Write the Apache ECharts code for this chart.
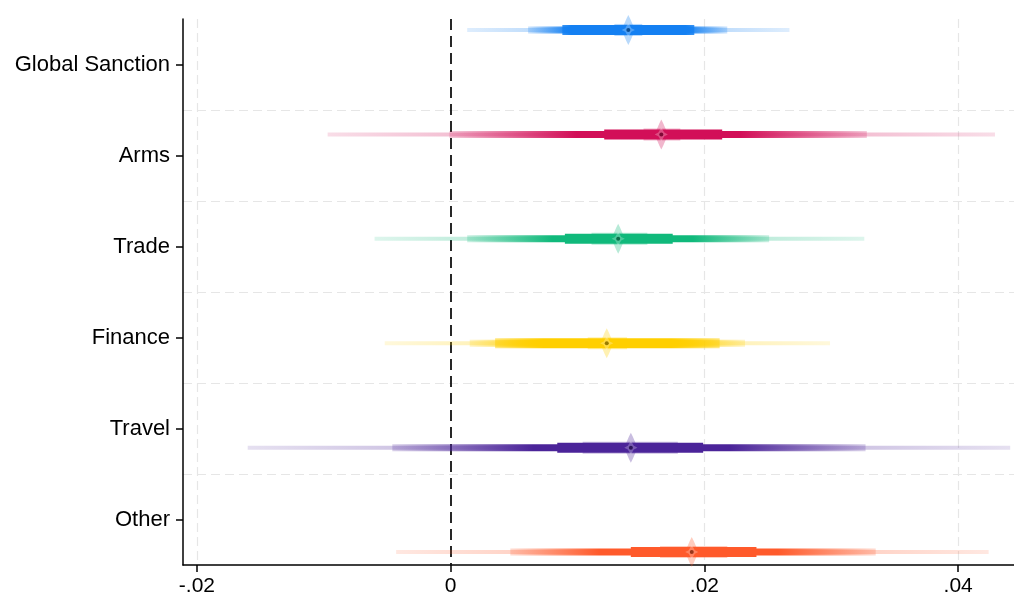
<!DOCTYPE html>
<html>
<head>
<meta charset="utf-8">
<script src="https://cdn.jsdelivr.net/npm/echarts@6/dist/echarts.min.js"></script>
<style>
  html, body { margin: 0; padding: 0; background: #fff; }
  #main { width: 1014px; height: 597px; }
</style>
</head>
<body>
<div id="main"></div>
<script>
// 各类制裁的系数与置信区间
const categories = ['Global Sanction', 'Arms', 'Trade', 'Finance', 'Travel', 'Other']
const estimate = [0.0140, 0.0166, 0.0132, 0.0123, 0.0142, 0.0190]
// 最外层（最浅）
const outerLo = [0.0013, -0.0097, -0.0060, -0.0052, -0.0160, -0.0043]
const outerHi = [0.0267, 0.0429, 0.0326, 0.0299, 0.0441, 0.0424]
// 中层（渐变）
const midLo = [0.0061, -0.0001, 0.0013, 0.0015, -0.0046, 0.0047]
const midHi = [0.0218, 0.0328, 0.0251, 0.0232, 0.0327, 0.0335]
// 颜色变为实色的区间
const solidLo = [0.0095, 0.0099, 0.0080, 0.0073, 0.0065, 0.0117]
const solidHi = [0.0185, 0.0228, 0.0191, 0.0174, 0.0220, 0.0258]
// 粗带
const thickLo = [0.0088, 0.0121, 0.0090, 0.0035, 0.0084, 0.0142]
const thickHi = [0.0192, 0.0214, 0.0175, 0.0212, 0.0199, 0.0241]
// 最内层
const innerLo = [0.0129, 0.0152, 0.0111, 0.0108, 0.0104, 0.0165]
const innerHi = [0.0151, 0.0181, 0.0155, 0.0139, 0.0179, 0.0218]
const xTicks = [-0.02, 0, 0.02, 0.04]

const colors = ['#1480f2', '#d20f58', '#10b97b', '#ffcf00', '#4b2499', '#ff5a2b']

function rgba(hex, a, dark) {
  const n = parseInt(hex.slice(1), 16)
  const k = dark || 1
  return 'rgba(' + Math.round((n >> 16) * k) + ',' + Math.round(((n >> 8) & 255) * k) + ',' + Math.round((n & 255) * k) + ',' + a + ')'
}

const rows = categories.map((c, i) => [
  i + 1, estimate[i], outerLo[i], outerHi[i], midLo[i], midHi[i],
  solidLo[i], solidHi[i], thickLo[i], thickHi[i], innerLo[i], innerHi[i]
])

function renderItem(params, api) {
  const i = params.dataIndex
  const c = colors[i]
  const pos = api.value(0)
  const y = api.coord([0, pos])[1]
  const px = v => api.coord([v, pos])[0]
  const band = (lo, hi, h, fill) => ({
    type: 'rect',
    shape: { x: px(lo), y: y - h / 2, width: px(hi) - px(lo), height: h },
    style: { fill: fill }
  })
  // 渐变：两端浅，中间实色
  const x0 = px(api.value(4)), x1 = px(api.value(5))
  let s1 = (px(api.value(6)) - x0) / (x1 - x0)
  let s2 = (px(api.value(7)) - x0) / (x1 - x0)
  s1 = Math.min(Math.max(s1, 0.01), 0.98)
  s2 = Math.min(Math.max(s2, s1 + 0.01), 0.99)
  const grad = new echarts.graphic.LinearGradient(x0, 0, x1, 0, [
    { offset: 0, color: rgba(c, 0.22) },
    { offset: s1, color: rgba(c, 1) },
    { offset: s2, color: rgba(c, 1) },
    { offset: 1, color: rgba(c, 0.22) }
  ], true)
  const ox0 = px(api.value(2)), ox1 = px(api.value(3))
  const outerGrad = new echarts.graphic.LinearGradient(ox0, 0, ox1, 0, [
    { offset: 0, color: rgba(c, 0.14) },
    { offset: (x0 - ox0) / (ox1 - ox0), color: rgba(c, 0.26) },
    { offset: (x1 - ox0) / (ox1 - ox0), color: rgba(c, 0.26) },
    { offset: 1, color: rgba(c, 0.14) }
  ], true)
  const ex = px(api.value(1))
  const spike = [[-11, 0], [-5, -4], [-2, -11], [0, -15], [2, -11], [5, -4], [11, 0],
    [5, 4], [2, 11], [0, 15], [-2, 11], [-5, 4]].map(p => [ex + p[0], y + p[1]])
  return {
    type: 'group',
    children: [
      band(api.value(2), api.value(3), 4, outerGrad),
      band(api.value(4), api.value(5), 7, grad),
      band(api.value(10), api.value(11), 12, rgba(c, 0.3)),
      { type: 'polygon', shape: { points: spike }, style: { fill: rgba(c, 0.3) } },
      band(api.value(8), api.value(9), 10, grad),
      { type: 'polygon', shape: { points: spike.map(p => [ex + (p[0] - ex) * 0.6, y + (p[1] - y) * 0.45]) }, style: { fill: 'rgba(255,255,255,0.25)' } },
      { type: 'circle', shape: { cx: ex, cy: y, r: 2 }, style: { fill: rgba(c, 1, 0.6) } }
    ]
  }
}

const myChart = echarts.init(document.getElementById('main'), null, { renderer: 'canvas' })

const option = {
  animation: false,
  backgroundColor: '#fff',
  grid: { left: 183, right: 0, top: 19, bottom: 31, containLabel: false },
  xAxis: {
    type: 'value',
    min: -0.0211,
    max: 0.0444,
    axisLine: { show: true, onZero: false, lineStyle: { color: '#000', width: 1.5 } },
    axisTick: { show: true, length: 7, customValues: xTicks, lineStyle: { color: '#000', width: 1.5 } },
    axisLabel: {
      customValues: xTicks,
      margin: 11,
      fontFamily: 'Liberation Sans',
      fontSize: 21,
      color: '#000',
      formatter: v => v === 0 ? '0' : (v < 0 ? '-' : '') + String(Math.abs(v)).replace(/^0/, '')
    },
    splitLine: { show: false }
  },
  yAxis: [{
    type: 'category',
    data: categories,
    inverse: true,
    position: 'left',
    axisLine: { show: true, onZero: false, lineStyle: { color: '#000', width: 1.5 } },
    axisTick: { show: true, alignWithLabel: true, length: 7, lineStyle: { color: '#000', width: 1.5 } },
    axisLabel: { margin: 13, fontFamily: 'Liberation Sans', fontSize: 22, color: '#000' },
    splitLine: { show: true, showMinLine: false, showMaxLine: false, lineStyle: { color: '#e6e6e6', type: [9, 5], width: 1.2 } }
  }, {
    type: 'value',
    inverse: true,
    min: 0.895,
    max: 6.124,
    show: false,
    splitLine: { show: false }
  }],
  series: [{
    type: 'line',
    data: [],
    silent: true,
    z: 1,
    markLine: {
      silent: true,
      symbol: 'none',
      label: { show: false },
      lineStyle: { color: '#e6e6e6', type: [9, 5], width: 1.2 },
      data: [{ xAxis: -0.02 }, { xAxis: 0.02 }, { xAxis: 0.04 },
        { xAxis: 0, lineStyle: { color: '#111', type: [11, 6], width: 1.8 } }]
    }
  }, {
    type: 'custom',
    yAxisIndex: 1,
    z: 5,
    renderItem: renderItem,
    encode: { x: [1, 2, 3], y: 0 },
    data: rows
  }]
}

myChart.setOption(option)
</script>
</body>
</html>
